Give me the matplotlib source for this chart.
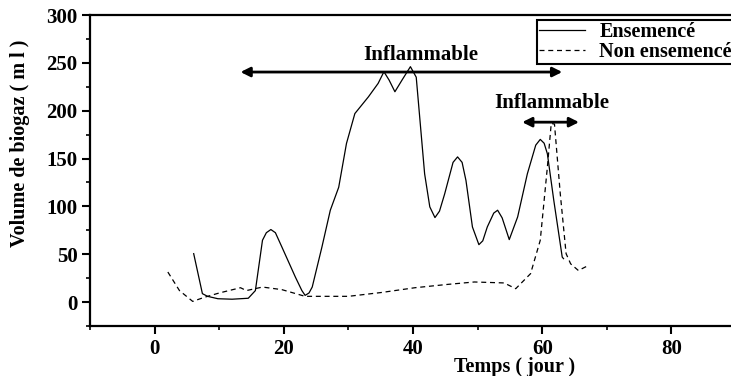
import matplotlib
matplotlib.use("Agg")
import matplotlib.pyplot as plt
from matplotlib.ticker import MultipleLocator

# Data
ens_x = [6.05, 7.4, 8.2, 9.8, 12.0, 14.5, 15.6, 16.7, 17.3, 18.0, 18.7, 19.7, 21.8, 22.8, 23.3, 23.9,
         24.4, 25.9, 27.2, 28.5, 29.7, 31.0, 33.1, 34.6, 35.5, 36.3, 37.2, 38.3, 39.6, 40.5, 41.8,
         42.6, 43.4, 44.1, 44.9, 46.2, 46.9, 47.6, 48.2, 49.2, 50.2, 50.8, 51.5, 52.5, 53.1, 53.8,
         54.9, 56.2, 57.7, 59.0, 59.7, 60.3, 60.8, 61.8, 63.1, 63.3]
ens_y = [50.6, 8.8, 6.0, 3.5, 3.0, 4.0, 12.0, 64.6, 72.5, 75.8, 72.5, 57.6, 26.0, 12.0, 7.0, 9.5,
         15.7, 57.5, 96.0, 120.0, 165.7, 197.0, 214.5, 228.5, 240.7, 232.0, 219.8, 232.0, 246.0, 235.0, 134.0,
         99.5, 88.3, 95.0, 113.0, 146.0, 151.7, 146.0, 127.0, 78.5, 60.0, 64.0, 78.5, 93.0, 96.0, 88.0,
         65.3, 89.0, 134.0, 164.0, 170.0, 166.0, 155.0, 106.0, 47.0, 45.4]

non_x = [2.05, 3.85, 5.9, 7.7, 10.0, 13.3, 14.2, 16.7, 19.7, 23.3, 30.0, 35.1, 40.3, 45.4, 49.5,
         54.1, 55.9, 58.2, 59.7, 60.8, 61.4, 61.9, 62.8, 63.7, 64.4, 65.6, 66.9]
non_y = [31.4, 12.0, 0.7, 5.0, 9.5, 15.0, 12.0, 15.7, 13.0, 6.0, 6.0, 10.0, 15.0, 18.5, 21.0,
         20.0, 14.0, 29.7, 64.6, 141.0, 186.7, 186.0, 113.0, 50.6, 40.0, 33.0, 37.4]

series_labels = ["Ensemencé", "Non ensemencé"]
arrow_label = "Inflammable"
arrow1 = (13.3, 63.1, 240.4)
arrow2 = (56.9, 65.7, 188.0)
xlabel = "Temps ( jour )"
ylabel = "Volume de biogaz ( m l )"

W, H = 731, 376
fig = plt.figure(figsize=(W / 100, H / 100), dpi=100)
ax = fig.add_axes([90 / W, (H - 326) / H, (736 - 90) / W, (326 - 15) / H])

font = dict(family="Liberation Serif", weight="bold")

ax.plot(ens_x, ens_y, color="black", lw=0.9, ls="-", label=series_labels[0])
ax.plot(non_x, non_y, color="black", lw=0.9, ls=(0, (4, 3)), label=series_labels[1])

ax.set_xlim(-10, 90)
ax.set_ylim(-25, 300)
ax.xaxis.set_major_locator(MultipleLocator(20))
ax.xaxis.set_minor_locator(MultipleLocator(10))
ax.yaxis.set_major_locator(MultipleLocator(50))
ax.yaxis.set_minor_locator(MultipleLocator(25))
ax.tick_params(which="major", direction="out", length=6, width=1.5, pad=3)
ax.tick_params(which="minor", direction="out", length=3, width=1.2)
for lab in ax.get_xticklabels() + ax.get_yticklabels():
    lab.set_fontfamily("Liberation Serif")
    lab.set_fontweight("bold")
    lab.set_fontsize(15)
for s in ax.spines.values():
    s.set_linewidth(1.6)
ax.spines["right"].set_visible(False)

# arrows
for (x0, x1, y) in (arrow1, arrow2):
    ax.annotate("", xy=(x1, y), xytext=(x0, y),
                arrowprops=dict(arrowstyle="<|-|>", color="black", lw=2,
                                mutation_scale=14, shrinkA=0, shrinkB=0))
ax.text(41.2, 258, arrow_label, ha="center", va="center", fontsize=15, **font)
ax.text(61.5, 208, arrow_label, ha="center", va="center", fontsize=15, **font)

fig.text(515 / W, 1 - 367 / H, xlabel, ha="center", va="center", fontsize=14.5, **font)
fig.text(20 / W, 1 - 143 / H, ylabel, ha="center", va="center", rotation=90, fontsize=14.5, **font)

leg = ax.legend(loc="upper left", bbox_to_anchor=(537 / W, 1 - 20 / H),
                bbox_transform=fig.transFigure, frameon=True, fancybox=False,
                edgecolor="black", framealpha=1, borderpad=0.1, labelspacing=0.0,
                handlelength=2.3, handletextpad=0.7, borderaxespad=0,
                prop=dict(family="Liberation Serif", weight="bold", size=14.5))
leg.get_frame().set_linewidth(1.5)

fig.savefig("out.png", dpi=100)
